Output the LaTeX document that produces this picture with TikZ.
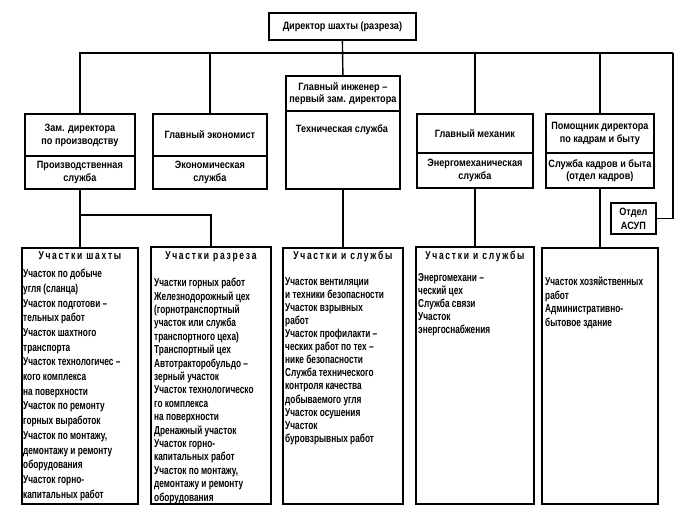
\documentclass[tikz,border=0pt]{standalone}
\usepackage{fontspec}
\setmainfont{Liberation Sans}
\newfontfamily\hdrfont[FakeStretch=0.86]{Liberation Sans}
\newfontfamily\condfont[FakeStretch=0.72]{Liberation Sans}
\newfontfamily\ttlfont[FakeStretch=0.74,LetterSpace=15]{Liberation Sans}
\begin{document}
\begin{tikzpicture}[x=1pt,y=-1pt,
  box/.style={draw, line width=1.8pt, inner sep=0pt, anchor=north west},
  conn/.style={line width=1.4pt},
  hdr/.style={align=center, inner sep=0pt, font=\hdrfont\bfseries\fontsize{10.6}{13}\selectfont},
  ltxt/.style={align=left, inner sep=0pt, anchor=north west},
  ttl/.style={inner sep=0pt, anchor=north, font=\ttlfont\bfseries\fontsize{11.5}{13}\selectfont}]
\useasboundingbox (0,0) rectangle (698,514);

% top
\node[box, minimum width=147pt, minimum height=27pt, hdr] (dir) at (268,12) {Директор шахты (разреза)};

% level 2
\node[box, minimum width=110pt, minimum height=42pt, hdr] (A1) at (24,113) {Зам. директора\\по производству};
\node[box, minimum width=110pt, minimum height=33pt, hdr] (A2) at (24,155) {Производственная\\служба};

\node[box, minimum width=114pt, minimum height=42pt, hdr] (B1) at (152,113) {Главный экономист};
\node[box, minimum width=114pt, minimum height=33pt, hdr] (B2) at (152,155) {Экономическая\\служба};

\node[box, minimum width=114pt, minimum height=35pt, hdr, font=\hdrfont\bfseries\fontsize{10.6}{12}\selectfont] (C1) at (285,75) {Главный инженер –\\первый зам. директора};
\node[box, minimum width=114pt, minimum height=78pt] (C2) at (285,110) {};
\node[hdr, anchor=north] (C2t) at (342,125) {Техническая служба};

\node[box, minimum width=116pt, minimum height=39pt, hdr] (D1) at (416,113) {Главный механик};
\node[box, minimum width=116pt, minimum height=35pt, hdr] (D2) at (416,152) {Энергомеханическая\\служба};

\node[box, minimum width=108pt, minimum height=39pt, hdr] (E1) at (545,113) {Помощник директора\\по кадрам и быту};
\node[box, minimum width=108pt, minimum height=35pt, hdr, font=\hdrfont\bfseries\fontsize{10.6}{12}\selectfont] (E2) at (545,152) {Служба кадров и быта\\(отдел кадров)};

\node[box, minimum width=45pt, minimum height=31pt, hdr, font=\hdrfont\bfseries\fontsize{10.6}{14}\selectfont] (asup) at (610,202) {Отдел\\АСУП};

% level 3 boxes
\node[box, minimum width=116pt, minimum height=256pt] (b1) at (21,247) {};
\node[box, minimum width=120pt, minimum height=257pt] (b2) at (150,246) {};
\node[box, minimum width=120pt, minimum height=256pt] (b3) at (282,247) {};
\node[box, minimum width=118pt, minimum height=257pt] (b4) at (415,246) {};
\node[box, minimum width=116pt, minimum height=256pt] (b5) at (541,247) {};

\node[ttl] (b1t) at (b1.north |- 0,251) {Участки шахты};
\node[ttl] (b2t) at (b2.north |- 0,251) {Участки разреза};
\node[ttl] (b3t) at (b3.north |- 0,251) {Участки и службы};
\node[ttl] (b4t) at (b4.north |- 0,251) {Участки и службы};

\node[ltxt, font=\condfont\bfseries\fontsize{11.5}{14.7}\selectfont] (b1x) at (23,269) {Участок по добыче\\угля (сланца)\\Участок подготови –\\тельных работ\\Участок шахтного\\транспорта\\Участок технологичес –\\кого комплекса\\на поверхности\\Участок по ремонту\\горных выработок\\Участок по монтажу,\\демонтажу и ремонту\\оборудования\\Участок горно-\\капитальных работ};

\node[ltxt, font=\condfont\bfseries\fontsize{11.5}{13.4}\selectfont] (b2x) at (154,278) {Участки горных работ\\Железнодорожный цех\\(горнотранспортный\\участок или служба\\транспортного цеха)\\Транспортный цех\\Автотракторобульдо –\\зерный участок\\Участок технологическо\\го комплекса\\на поверхности\\Дренажный участок\\Участок горно-\\капитальных работ\\Участок по монтажу,\\демонтажу и ремонту\\оборудования};

\node[ltxt, font=\condfont\bfseries\fontsize{11.5}{13.1}\selectfont] (b3x) at (285,277) {Участок вентиляции\\и техники безопасности\\Участок взрывных\\работ\\Участок профилакти –\\ческих работ по тех –\\нике безопасности\\Служба технического\\контроля качества\\добываемого угля\\Участок осушения\\Участок\\буровзрывных работ};

\node[ltxt, font=\condfont\bfseries\fontsize{11.5}{13}\selectfont] (b4x) at (418,273) {Энергомехани –\\ческий цех\\Служба связи\\Участок\\энергоснабжения};

\node[ltxt, font=\condfont\bfseries\fontsize{11.5}{13.5}\selectfont] (b5x) at (545,277) {Участок хозяйственных\\работ\\Административно-\\бытовое здание};

% connectors
\coordinate (hr) at (673,53);
\coordinate (split) at (79,215);
\draw[conn] (dir.south) -- (C1.north);
\draw[conn] (A1.north) |- (hr);
\draw[conn] (hr) |- (asup.east);
\draw[conn] (B1.north) -- (B1.north |- hr);
\draw[conn] (D1.north) -- (D1.north |- hr);
\draw[conn] (E1.north) -- (E1.north |- hr);
\draw[conn] (A2.south) -- (b1.north);
\draw[conn] (split) -| (b2.north);
\draw[conn] (C2.south) -- (b3.north);
\draw[conn] (D2.south) -- (b4.north);
\draw[conn] (E2.south) -- (b5.north);
\end{tikzpicture}
\end{document}
